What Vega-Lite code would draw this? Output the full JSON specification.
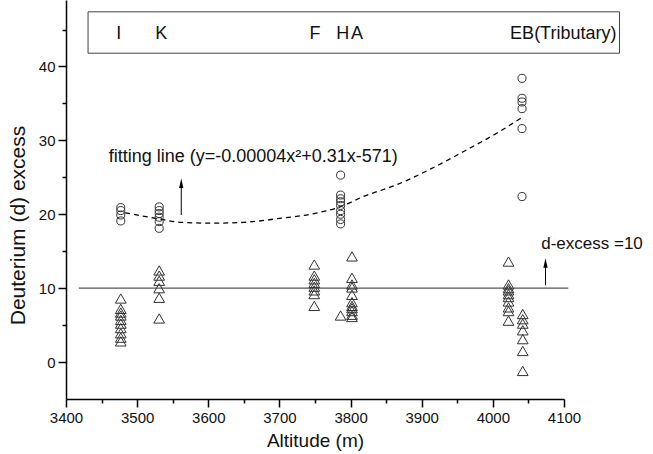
{
  "$schema": "https://vega.github.io/schema/vega-lite/v6.json",
  "width": 498,
  "height": 399,
  "autosize": "none",
  "padding": {"left": 66, "top": 0, "right": 89, "bottom": 55},
  "background": "white",
  "config": {"view": {"stroke": null}, "font": "Liberation Sans"},
  "datasets": {
    "points": [
      {"x": 3477, "y": 20.9, "kind": "circle"}, {"x": 3477, "y": 20.5, "kind": "circle"}, {"x": 3477, "y": 19.9, "kind": "circle"}, {"x": 3477, "y": 19.1, "kind": "circle"},
      {"x": 3531, "y": 21.0, "kind": "circle"}, {"x": 3531, "y": 20.5, "kind": "circle"}, {"x": 3531, "y": 20.1, "kind": "circle"}, {"x": 3531, "y": 19.6, "kind": "circle"}, {"x": 3531, "y": 19.0, "kind": "circle"}, {"x": 3531, "y": 18.1, "kind": "circle"},
      {"x": 3786, "y": 25.3, "kind": "circle"}, {"x": 3786, "y": 22.6, "kind": "circle"}, {"x": 3786, "y": 22.1, "kind": "circle"}, {"x": 3786, "y": 21.7, "kind": "circle"}, {"x": 3786, "y": 21.2, "kind": "circle"}, {"x": 3786, "y": 20.5, "kind": "circle"}, {"x": 3786, "y": 20.0, "kind": "circle"}, {"x": 3786, "y": 19.3, "kind": "circle"}, {"x": 3786, "y": 18.7, "kind": "circle"},
      {"x": 4041, "y": 38.4, "kind": "circle"}, {"x": 4041, "y": 35.7, "kind": "circle"}, {"x": 4041, "y": 35.2, "kind": "circle"}, {"x": 4041, "y": 34.3, "kind": "circle"}, {"x": 4041, "y": 31.6, "kind": "circle"}, {"x": 4041, "y": 22.4, "kind": "circle"},
      {"x": 3477, "y": 8.6, "kind": "triangle"}, {"x": 3477, "y": 7.2, "kind": "triangle"}, {"x": 3477, "y": 6.7, "kind": "triangle"}, {"x": 3477, "y": 6.3, "kind": "triangle"}, {"x": 3477, "y": 5.7, "kind": "triangle"}, {"x": 3477, "y": 5.2, "kind": "triangle"}, {"x": 3477, "y": 4.6, "kind": "triangle"}, {"x": 3477, "y": 3.9, "kind": "triangle"}, {"x": 3477, "y": 3.3, "kind": "triangle"}, {"x": 3477, "y": 2.8, "kind": "triangle"},
      {"x": 3531, "y": 12.4, "kind": "triangle"}, {"x": 3531, "y": 11.7, "kind": "triangle"}, {"x": 3531, "y": 11.0, "kind": "triangle"}, {"x": 3531, "y": 10.0, "kind": "triangle"}, {"x": 3531, "y": 8.7, "kind": "triangle"}, {"x": 3531, "y": 5.9, "kind": "triangle"},
      {"x": 3749, "y": 13.2, "kind": "triangle"}, {"x": 3749, "y": 11.7, "kind": "triangle"}, {"x": 3749, "y": 11.2, "kind": "triangle"}, {"x": 3749, "y": 10.7, "kind": "triangle"}, {"x": 3749, "y": 10.2, "kind": "triangle"}, {"x": 3749, "y": 9.7, "kind": "triangle"}, {"x": 3749, "y": 9.2, "kind": "triangle"}, {"x": 3749, "y": 7.6, "kind": "triangle"},
      {"x": 3786, "y": 6.3, "kind": "triangle"},
      {"x": 3802, "y": 14.3, "kind": "triangle"}, {"x": 3802, "y": 11.4, "kind": "triangle"}, {"x": 3802, "y": 10.5, "kind": "triangle"}, {"x": 3802, "y": 10.1, "kind": "triangle"}, {"x": 3802, "y": 9.1, "kind": "triangle"}, {"x": 3802, "y": 8.1, "kind": "triangle"}, {"x": 3802, "y": 7.6, "kind": "triangle"}, {"x": 3802, "y": 7.3, "kind": "triangle"}, {"x": 3802, "y": 6.9, "kind": "triangle"}, {"x": 3802, "y": 6.4, "kind": "triangle"}, {"x": 3802, "y": 6.1, "kind": "triangle"},
      {"x": 4022, "y": 13.6, "kind": "triangle"}, {"x": 4022, "y": 10.5, "kind": "triangle"}, {"x": 4022, "y": 10.0, "kind": "triangle"}, {"x": 4022, "y": 9.7, "kind": "triangle"}, {"x": 4022, "y": 9.2, "kind": "triangle"}, {"x": 4022, "y": 8.8, "kind": "triangle"}, {"x": 4022, "y": 8.2, "kind": "triangle"}, {"x": 4022, "y": 7.4, "kind": "triangle"}, {"x": 4022, "y": 6.9, "kind": "triangle"}, {"x": 4022, "y": 5.6, "kind": "triangle"},
      {"x": 4042, "y": 6.5, "kind": "triangle"}, {"x": 4042, "y": 5.8, "kind": "triangle"}, {"x": 4042, "y": 5.2, "kind": "triangle"}, {"x": 4042, "y": 4.3, "kind": "triangle"}, {"x": 4042, "y": 3.1, "kind": "triangle"}, {"x": 4042, "y": 1.5, "kind": "triangle"}, {"x": 4042, "y": -1.2, "kind": "triangle"}
    ],
    "curve": [
      {"x": 3483, "y": 20.2}, {"x": 3529, "y": 19.4}, {"x": 3563, "y": 18.9}, {"x": 3603, "y": 18.8}, {"x": 3649, "y": 18.9}, {"x": 3697, "y": 19.4}, {"x": 3743, "y": 20.0}, {"x": 3785, "y": 21.0}, {"x": 3818, "y": 22.4}, {"x": 3865, "y": 24.0}, {"x": 3912, "y": 26.1}, {"x": 3959, "y": 28.5}, {"x": 4006, "y": 31.0}, {"x": 4041, "y": 33.1}
    ],
    "ref": [{"x": 3418, "x2": 4106, "y": 10}],
    "box": [{"x": 3431, "x2": 4178, "y": 41.8, "y2": 47.4}],
    "arrows": [{"x": 3562, "y": 19.9, "y2": 24.2}, {"x": 4074, "y": 10.4, "y2": 13.4}],
    "heads": [{"x": 3562, "y": 24.2}, {"x": 4074, "y": 13.4}],
    "fit": [{"x": 3460, "y": 27.1, "label": "fitting line (y=-0.00004x²+0.31x-571)"}],
    "dex": [{"x": 4068, "y": 15.3, "label": "d-excess =10"}],
    "sites": [
      {"x": 3474, "y": 44.4, "label": "I"}, {"x": 3534, "y": 44.4, "label": "K"}, {"x": 3750, "y": 44.4, "label": "F"}, {"x": 3789, "y": 44.4, "label": "H"}, {"x": 3809, "y": 44.4, "label": "A"}, {"x": 4099, "y": 44.4, "label": "EB(Tributary)"}
    ]
  },
  "encoding": {
    "x": {
      "field": "x", "type": "quantitative",
      "scale": {"domain": [3400, 4100], "nice": false, "zero": false},
      "axis": {
        "title": "Altitude (m)", "titleFontSize": 19, "titleFontWeight": "normal", "titleColor": "#111", "titlePadding": 6,
        "values": [3400, 3450, 3500, 3550, 3600, 3650, 3700, 3750, 3800, 3850, 3900, 3950, 4000, 4050, 4100],
        "format": "d",
        "labelExpr": "datum.value % 100 === 0 ? datum.label : ''",
        "labelOverlap": false, "labelFlush": false,
        "labelFontSize": 15, "labelColor": "#111", "labelPadding": 3,
        "grid": false, "domainColor": "#000", "domainWidth": 1.5,
        "tickColor": "#000", "tickWidth": 1.5,
        "tickSize": {"condition": {"test": "datum.value % 100 !== 0", "value": 4}, "value": 8}
      }
    },
    "y": {
      "field": "y", "type": "quantitative",
      "scale": {"domain": [-5, 49], "nice": false, "zero": false},
      "axis": {
        "title": "Deuterium (d) excess", "titleFontSize": 21, "titleFontWeight": "normal", "titleColor": "#111", "titlePadding": 10,
        "titleY": 225,
        "values": [0, 5, 10, 15, 20, 25, 30, 35, 40, 45],
        "format": "d",
        "labelExpr": "datum.value % 10 === 0 ? datum.label : ''",
        "labelOverlap": false, "labelFlush": false,
        "labelFontSize": 15, "labelColor": "#111", "labelPadding": 3,
        "grid": false, "domainColor": "#000", "domainWidth": 1.5,
        "tickColor": "#000", "tickWidth": 1.5,
        "tickSize": {"condition": {"test": "datum.value % 10 !== 0", "value": 4}, "value": 8}
      }
    }
  },
  "layer": [
    {
      "data": {"name": "box"},
      "mark": {"type": "rect", "filled": false, "stroke": "#444", "strokeWidth": 1},
      "encoding": {"x2": {"field": "x2"}, "y2": {"field": "y2"}}
    },
    {
      "data": {"name": "ref"},
      "mark": {"type": "rule", "color": "#555", "strokeWidth": 1.4},
      "encoding": {"x2": {"field": "x2"}}
    },
    {
      "data": {"name": "curve"},
      "mark": {"type": "line", "color": "#000", "strokeWidth": 1.3, "strokeDash": [5, 4], "interpolate": "monotone"},
      "encoding": {}
    },
    {
      "data": {"name": "points"},
      "mark": {"type": "point", "filled": false, "stroke": "#333", "strokeWidth": 1, "opacity": 1},
      "encoding": {
        "shape": {"field": "kind", "type": "nominal", "scale": {"domain": ["circle", "triangle"], "range": ["circle", "triangle-up"]}, "legend": null},
        "size": {"field": "kind", "type": "nominal", "scale": {"domain": ["circle", "triangle"], "range": [65, 115]}, "legend": null}
      }
    },
    {
      "data": {"name": "arrows"},
      "mark": {"type": "rule", "color": "#000", "strokeWidth": 1},
      "encoding": {"y2": {"field": "y2"}}
    },
    {
      "data": {"name": "heads"},
      "mark": {"type": "point", "shape": "M0,-1L-0.45,1L0.45,1Z", "filled": true, "color": "#000", "size": 90, "opacity": 1},
      "encoding": {}
    },
    {
      "data": {"name": "fit"},
      "mark": {"type": "text", "align": "left", "baseline": "alphabetic", "fontSize": 18, "color": "#111"},
      "encoding": {"text": {"field": "label"}}
    },
    {
      "data": {"name": "dex"},
      "mark": {"type": "text", "align": "left", "baseline": "alphabetic", "fontSize": 17, "color": "#111"},
      "encoding": {"text": {"field": "label"}}
    },
    {
      "data": {"name": "sites"},
      "mark": {"type": "text", "align": "center", "baseline": "middle", "fontSize": 18, "color": "#111"},
      "encoding": {"text": {"field": "label"}}
    }
  ]
}
